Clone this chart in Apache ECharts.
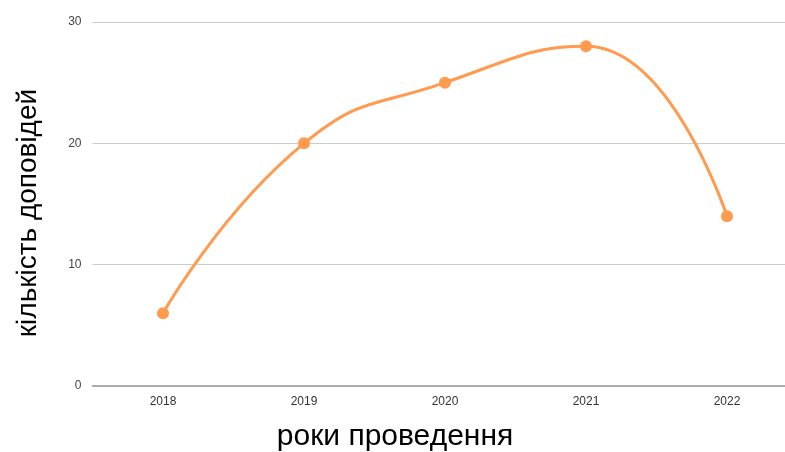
<!DOCTYPE html>
<html>
<head>
    <meta charset="utf-8">
    <title>кількість доповідей</title>
    <script src="https://cdn.jsdelivr.net/npm/echarts@6/dist/echarts.min.js"></script>
    <style>
        html, body { margin: 0; padding: 0; background: #fff; }
        #canvasDiv { width: 785px; height: 452px; }
    </style>
</head>
<body>
    <div id="canvasDiv"></div>
    <script>
        var years = ['2018', '2019', '2020', '2021', '2022'];
        var reports = [6, 20, 25, 28, 14];
        var yTicks = [0, 10, 20, 30];

        var myChart = echarts.init(document.getElementById('canvasDiv'));
        var option = {
            animation: false,
            grid: { left: 92.5, right: -12.5, top: 22, bottom: 66, outerBoundsMode: 'none', containLabel: false },
            xAxis: {
                type: 'category',
                data: years,
                boundaryGap: true,
                name: 'роки проведення',
                nameLocation: 'middle',
                nameGap: 36,
                nameTextStyle: { fontSize: 30, color: '#000', fontFamily: 'Liberation Sans', padding: [0, 100, 0, 0] },
                axisLine: { lineStyle: { color: '#999', width: 1.5 } },
                axisTick: { show: false },
                axisLabel: { color: '#333', fontSize: 12, fontFamily: 'Liberation Sans', margin: 10 },
                splitLine: { show: false }
            },
            yAxis: {
                type: 'value',
                min: yTicks[0],
                max: yTicks[yTicks.length - 1],
                interval: 10,
                name: 'кількість доповідей',
                nameLocation: 'middle',
                nameGap: 50,
                nameTextStyle: { fontSize: 28, color: '#000', fontFamily: 'Liberation Sans', padding: [0, 18, 0, 0] },
                axisLine: { show: false },
                axisTick: { show: false },
                axisLabel: { color: '#444', fontSize: 12, fontFamily: 'Liberation Sans', margin: 11 },
                splitLine: { lineStyle: { color: '#ccc', width: 1 } }
            },
            series: [{
                type: 'line',
                data: reports,
                smooth: 0.5,
                symbol: 'circle',
                symbolSize: 12,
                lineStyle: { color: '#ff9a4f', width: 3 },
                itemStyle: { color: '#ff9a4f' }
            }]
        };
        myChart.setOption(option);
    </script>
</body>
</html>
